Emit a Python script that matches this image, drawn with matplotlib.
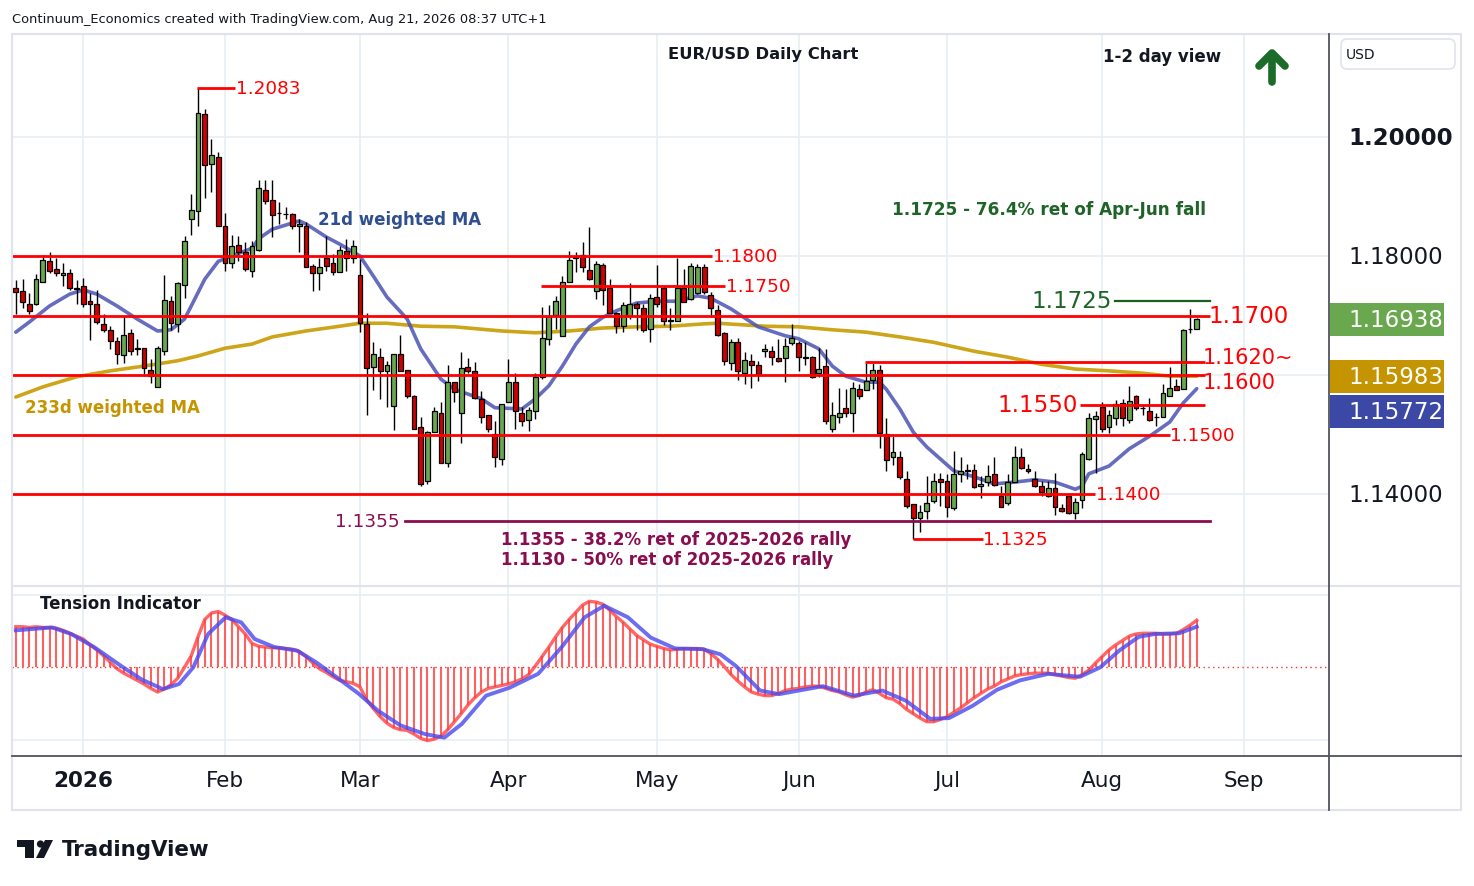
import numpy as np
import pandas as pd
import matplotlib
matplotlib.use("Agg")
import matplotlib.pyplot as plt
from matplotlib.patches import Rectangle, FancyBboxPatch, Polygon, Circle
from matplotlib.transforms import blended_transform_factory

plt.rcParams['font.family'] = ['DejaVu Sans']

# ---------------- data ----------------
dates = pd.bdate_range('2025-12-17', '2026-08-21')
dates = dates[~dates.isin(pd.to_datetime(['2025-12-25', '2026-01-01']))]

opens = [
1.1747,1.1741,1.1719,1.1719,1.1757,1.1791,1.1779,1.1768,1.1771,1.1746,
1.1749,1.1724,1.1720,1.1685,1.1675,1.1657,1.1634,1.1670,1.1646,1.1646,
1.1608,1.1580,1.1641,1.1724,1.1685,1.1752,1.1862,1.1876,1.2038,1.1954,
1.1967,1.1850,1.1788,1.1818,1.1806,1.1775,1.1810,1.1911,1.1894,1.1872,
1.1871,1.1871,1.1850,1.1851,1.1784,1.1771,1.1796,1.1788,1.1773,1.1808,
1.1796,1.1768,1.1686,1.1613,1.1630,1.1607,1.1548,1.1636,1.1608,1.1565,
1.1512,1.1422,1.1505,1.1537,1.1452,1.1588,1.1537,1.1613,1.1606,1.1560,
1.1532,1.1501,1.1459,1.1554,1.1588,1.1537,1.1524,1.1540,1.1597,1.1661,
1.1701,1.1665,1.1757,1.1798,1.1801,1.1777,1.1741,1.1785,1.1747,1.1704,
1.1683,1.1700,1.1720,1.1712,1.1678,1.1731,1.1747,1.1692,1.1691,1.1746,
1.1728,1.1738,1.1781,1.1735,1.1709,1.1670,1.1620,1.1655,1.1604,1.1623,
1.1617,1.1640,1.1640,1.1628,1.1628,1.1653,1.1653,1.1630,1.1630,1.1604,
1.1615,1.1510,1.1529,1.1545,1.1536,1.1576,1.1574,1.1592,1.1609,1.1501,
1.1463,1.1463,1.1426,1.1383,1.1360,1.1371,1.1389,1.1425,1.1422,1.1376,
1.1434,1.1438,1.1440,1.1413,1.1420,1.1434,1.1397,1.1385,1.1421,1.1463,
1.1442,1.1426,1.1414,1.1396,1.1410,1.1376,1.1396,1.1368,1.1390,1.1459,
1.1526,1.1547,1.1513,1.1528,1.1553,1.1524,1.1565,1.1544,1.1540,1.1529,
1.1529,1.1565,1.1581,1.1576,1.1677,1.1677]

highs = [
1.1759,1.1762,1.1737,1.1770,1.1801,1.1807,1.1796,1.1789,1.1779,1.1760,
1.1763,1.1737,1.1743,1.1702,1.1683,1.1664,1.1699,1.1677,1.1661,1.1646,
1.1627,1.1649,1.1768,1.1732,1.1757,1.1833,1.1905,1.2083,1.2047,1.1997,
1.1974,1.1873,1.1836,1.1834,1.1823,1.1826,1.1927,1.1927,1.1927,1.1890,
1.1883,1.1873,1.1862,1.1857,1.1787,1.1796,1.1834,1.1803,1.1816,1.1829,
1.1827,1.1795,1.1705,1.1655,1.1646,1.1624,1.1636,1.1667,1.1608,1.1566,
1.1529,1.1506,1.1547,1.1554,1.1616,1.1588,1.1639,1.1628,1.1622,1.1573,
1.1532,1.1522,1.1552,1.1627,1.1604,1.1546,1.1546,1.1604,1.1715,1.1717,
1.1733,1.1767,1.1809,1.1806,1.1823,1.1848,1.1792,1.1789,1.1762,1.1706,
1.1723,1.1755,1.1722,1.1720,1.1736,1.1785,1.1750,1.1713,1.1796,1.1778,
1.1788,1.1787,1.1787,1.1740,1.1718,1.1673,1.1661,1.1662,1.1638,1.1635,
1.1624,1.1652,1.1649,1.1661,1.1662,1.1686,1.1658,1.1656,1.1632,1.1645,
1.1644,1.1554,1.1578,1.1576,1.1588,1.1585,1.1620,1.1620,1.1616,1.1527,
1.1498,1.1473,1.1438,1.1383,1.1382,1.1431,1.1436,1.1436,1.1434,1.1472,
1.1462,1.1450,1.1450,1.1431,1.1448,1.1462,1.1414,1.1434,1.1481,1.1477,
1.1450,1.1438,1.1422,1.1422,1.1436,1.1383,1.1397,1.1394,1.1470,1.1537,
1.1540,1.1555,1.1542,1.1558,1.1559,1.1581,1.1566,1.1550,1.1562,1.1537,
1.1585,1.1613,1.1594,1.1678,1.1711,1.1695]

lows = [
1.1703,1.1712,1.1703,1.1717,1.1757,1.1772,1.1767,1.1750,1.1743,1.1719,
1.1714,1.1659,1.1685,1.1672,1.1643,1.1618,1.1620,1.1634,1.1634,1.1599,
1.1586,1.1580,1.1634,1.1675,1.1672,1.1729,1.1836,1.1851,1.1897,1.1907,
1.1850,1.1775,1.1780,1.1792,1.1775,1.1765,1.1808,1.1887,1.1832,1.1854,
1.1862,1.1846,1.1806,1.1782,1.1742,1.1743,1.1775,1.1768,1.1773,1.1774,
1.1789,1.1673,1.1532,1.1575,1.1560,1.1547,1.1508,1.1606,1.1562,1.1510,
1.1414,1.1417,1.1504,1.1452,1.1445,1.1554,1.1486,1.1604,1.1560,1.1520,
1.1504,1.1445,1.1448,1.1554,1.1510,1.1514,1.1506,1.1526,1.1594,1.1650,
1.1677,1.1665,1.1756,1.1773,1.1773,1.1760,1.1728,1.1718,1.1704,1.1670,
1.1672,1.1694,1.1676,1.1673,1.1656,1.1714,1.1684,1.1676,1.1691,1.1722,
1.1726,1.1736,1.1736,1.1697,1.1666,1.1617,1.1608,1.1592,1.1585,1.1578,
1.1590,1.1631,1.1617,1.1622,1.1588,1.1650,1.1607,1.1616,1.1595,1.1596,
1.1518,1.1504,1.1520,1.1530,1.1504,1.1559,1.1574,1.1576,1.1478,1.1438,
1.1448,1.1426,1.1376,1.1325,1.1336,1.1358,1.1385,1.1380,1.1362,1.1373,
1.1421,1.1426,1.1410,1.1393,1.1414,1.1414,1.1379,1.1382,1.1420,1.1442,
1.1435,1.1411,1.1396,1.1395,1.1364,1.1369,1.1366,1.1358,1.1376,1.1458,
1.1436,1.1505,1.1503,1.1516,1.1515,1.1520,1.1542,1.1533,1.1522,1.1515,
1.1529,1.1565,1.1575,1.1576,1.1671,1.1677]

closes = [
1.1739,1.1722,1.1708,1.1761,1.1793,1.1775,1.1771,1.1771,1.1747,1.1745,
1.1719,1.1720,1.1689,1.1675,1.1658,1.1636,1.1667,1.1641,1.1644,1.1612,
1.1599,1.1645,1.1726,1.1687,1.1754,1.1826,1.1878,1.2040,1.1953,1.1969,
1.1850,1.1789,1.1816,1.1806,1.1778,1.1816,1.1914,1.1893,1.1869,1.1872,
1.1870,1.1850,1.1854,1.1782,1.1771,1.1781,1.1784,1.1773,1.1810,1.1796,
1.1816,1.1687,1.1611,1.1635,1.1607,1.1617,1.1636,1.1607,1.1565,1.1510,
1.1416,1.1505,1.1539,1.1452,1.1588,1.1571,1.1611,1.1606,1.1561,1.1529,
1.1510,1.1462,1.1552,1.1589,1.1539,1.1522,1.1542,1.1596,1.1662,1.1700,
1.1724,1.1757,1.1794,1.1796,1.1781,1.1762,1.1787,1.1743,1.1705,1.1682,
1.1717,1.1720,1.1712,1.1676,1.1730,1.1720,1.1690,1.1690,1.1747,1.1722,
1.1784,1.1781,1.1739,1.1713,1.1668,1.1624,1.1655,1.1606,1.1625,1.1616,
1.1602,1.1644,1.1631,1.1624,1.1648,1.1662,1.1631,1.1629,1.1597,1.1610,
1.1522,1.1532,1.1537,1.1536,1.1579,1.1565,1.1590,1.1608,1.1502,1.1458,
1.1470,1.1428,1.1380,1.1360,1.1369,1.1385,1.1422,1.1421,1.1378,1.1434,
1.1438,1.1440,1.1411,1.1416,1.1431,1.1415,1.1379,1.1421,1.1463,1.1443,
1.1438,1.1414,1.1404,1.1410,1.1378,1.1371,1.1368,1.1386,1.1467,1.1527,
1.1531,1.1509,1.1533,1.1552,1.1528,1.1557,1.1544,1.1544,1.1524,1.1529,
1.1569,1.1579,1.1575,1.1676,1.1678,1.1694]

# 21d weighted MA (sampled at bar positions)
wma21_idx = [0,2,5,8,10,12,15,18,21,23,25,26,28,30,32,35,36,38,42,43,46,48,51,53,55,58,60,63,65,69,
             71,75,77,79,81,83,85,87,89,92,95,98,101,103,104,106,110,114,116,119,121,123,126,128,129,
             131,133,135,137,139,142,145,148,151,154,157,158,159,162,165,168,171,173,175]
wma21_val = [1.1672,1.1689,1.1716,1.1736,1.1743,1.1736,1.1716,1.1694,1.1674,1.1676,1.1694,1.1716,1.1761,
             1.1791,1.1800,1.1813,1.1829,1.1845,1.1859,1.1854,1.1832,1.1820,1.1800,1.1766,1.1731,1.1694,
             1.1644,1.1593,1.1576,1.1560,1.1545,1.1543,1.1560,1.1582,1.1615,1.1652,1.1681,1.1697,1.1708,
             1.1721,1.1724,1.1724,1.1733,1.1729,1.1723,1.1711,1.1681,1.1666,1.1661,1.1644,1.1615,1.1598,
             1.1588,1.1588,1.1576,1.1543,1.1504,1.1479,1.1459,1.1439,1.1429,1.1417,1.1420,1.1424,1.1420,
             1.1408,1.1413,1.1434,1.1447,1.1476,1.1497,1.1521,1.1553,1.1577]

# 233d weighted MA (sampled)
wma233_idx = [0,4,9,14,19,24,27,31,35,38,43,48,51,55,60,65,69,72,77,82,87,92,97,102,104,111,116,121,
              126,131,136,138,142,147,152,157,162,167,171,175]
wma233_val = [1.1563,1.1580,1.1597,1.1607,1.1615,1.1624,1.1632,1.1645,1.1652,1.1664,1.1674,1.1682,1.1687,
              1.1687,1.1682,1.1681,1.1677,1.1674,1.1671,1.1674,1.1679,1.1681,1.1682,1.1686,1.1687,1.1682,
              1.1681,1.1676,1.1672,1.1664,1.1655,1.1650,1.1640,1.1630,1.1618,1.1610,1.1607,1.1603,1.1598,
              1.1598]

# Tension indicator (histogram per bar) and its signal line (sampled)
tension = [
0.56,0.56,0.55,0.56,0.55,0.55,0.54,0.51,0.47,0.43,
0.39,0.31,0.24,0.16,0.07,-0.02,-0.08,-0.13,-0.18,-0.23,
-0.29,-0.34,-0.30,-0.24,-0.15,0.00,0.16,0.42,0.66,0.75,
0.77,0.72,0.66,0.56,0.46,0.33,0.29,0.28,0.27,0.27,
0.26,0.25,0.22,0.15,0.06,-0.02,-0.07,-0.13,-0.18,-0.20,
-0.22,-0.27,-0.45,-0.57,-0.68,-0.77,-0.83,-0.86,-0.87,-0.92,
-0.98,-1.01,-0.99,-0.95,-0.86,-0.75,-0.64,-0.52,-0.42,-0.34,
-0.29,-0.27,-0.25,-0.23,-0.20,-0.16,-0.10,0.02,0.15,0.28,
0.42,0.55,0.66,0.76,0.86,0.91,0.90,0.87,0.79,0.70,
0.62,0.53,0.44,0.38,0.32,0.29,0.26,0.24,0.25,0.26,
0.26,0.26,0.25,0.19,0.11,0.01,-0.10,-0.19,-0.27,-0.34,
-0.37,-0.39,-0.39,-0.36,-0.32,-0.30,-0.29,-0.27,-0.26,-0.26,
-0.29,-0.32,-0.34,-0.38,-0.41,-0.39,-0.34,-0.31,-0.36,-0.42,
-0.44,-0.50,-0.58,-0.64,-0.70,-0.75,-0.75,-0.72,-0.68,-0.62,
-0.56,-0.49,-0.42,-0.36,-0.30,-0.26,-0.20,-0.16,-0.12,-0.10,
-0.09,-0.08,-0.08,-0.08,-0.10,-0.12,-0.14,-0.15,-0.10,-0.04,
0.06,0.15,0.24,0.31,0.37,0.43,0.46,0.47,0.47,0.47,
0.46,0.46,0.47,0.52,0.58,0.65]

signal_idx = [0,5.4,8.2,11.6,15.9,18.7,21.8,24.2,26.3,28.5,31.1,33.4,35.4,38.3,41.7,44.5,47.3,50.9,53.7,
              57,60.6,63.5,66.1,69.7,73.2,77.4,80.9,84.3,87.2,90.7,94.1,97.7,101.8,104.4,106.7,110.3,
              113.1,119.6,124.2,128.4,131.9,135.5,138.3,141.8,145.4,148.8,153,157.7,160.7,163.5,166.4,
              168.8,172.4,175]
signal_val = [0.51,0.55,0.46,0.28,0.00,-0.17,-0.30,-0.23,0.00,0.46,0.69,0.62,0.39,0.28,0.23,0.07,-0.12,
              -0.37,-0.60,-0.80,-0.92,-0.97,-0.78,-0.39,-0.28,-0.09,0.28,0.69,0.85,0.69,0.41,0.26,0.25,
              0.18,0.02,-0.32,-0.37,-0.26,-0.39,-0.32,-0.46,-0.71,-0.70,-0.53,-0.31,-0.18,-0.09,-0.13,
              0.00,0.23,0.42,0.46,0.47,0.56]

# support / resistance levels: price, label
levels = [1.2083, 1.1800, 1.1750, 1.1700, 1.1622, 1.1600, 1.1550, 1.1500, 1.1400, 1.1325]
level_labels = ['1.2083', '1.1800', '1.1750', '1.1700', '1.1620~', '1.1600', '1.1550', '1.1500', '1.1400', '1.1325']
fib_level = 1.1355
target_level = 1.1725
price_ticks = [1.14, 1.18, 1.20]
last_price = 1.16938
wma233_last = 1.15983
wma21_last = 1.15772

# ---------------- figure ----------------
W, H = 1474, 887
fig = plt.figure(figsize=(W / 100, H / 100), dpi=100, facecolor='white')

L, R = 12, 1329
ax = fig.add_axes([L / W, 1 - 586 / H, (R - L) / W, (586 - 35) / H])
ax2 = fig.add_axes([L / W, 1 - 757 / H, (R - L) / W, (757 - 588) / H])
ov = fig.add_axes([0, 0, 1, 1], zorder=20)
ov.set_xlim(0, W); ov.set_ylim(H, 0); ov.set_axis_off()

n = len(closes)
xi = np.arange(n)
XL = (-0.563, 194.6)
for a in (ax, ax2):
    a.set_xlim(*XL)
    a.set_axis_off()
ax.set_ylim(1.12471, 1.21731)
ax2.set_ylim(-1.223, 1.108)
ppx = (ax.get_ylim()[1] - ax.get_ylim()[0]) / (586 - 35)  # price per pixel

# month positions
future = pd.bdate_range(dates[-1] + pd.Timedelta(days=1), '2026-09-30')
all_dates = dates.append(future)
month_pos, month_lab = [], []
for m in range(1, 10):
    idx = np.where((all_dates.year == 2026) & (all_dates.month == m))[0][0]
    month_pos.append(idx)
    month_lab.append('2026' if m == 1 else pd.Timestamp(2026, m, 1).strftime('%b'))

grid_c = '#e8edf3'
for p in month_pos:
    ax.axvline(p, color=grid_c, lw=1.2, zorder=0)
    ax2.axvline(p, color=grid_c, lw=1.2, zorder=0)
for t in [1.14, 1.16, 1.18, 1.20]:
    ax.axhline(t, color=grid_c, lw=1.2, zorder=0)
for t in [-1.0, 1.0]:
    ax2.axhline(t, color=grid_c, lw=1.2, zorder=0)

# moving averages
ax.plot(wma233_idx, wma233_val, color='#c89b00', lw=2.6, alpha=0.9, zorder=2,
        solid_capstyle='round', solid_joinstyle='round')
ax.plot(wma21_idx, wma21_val, color='#4b52b3', lw=2.6, alpha=0.85, zorder=2,
        solid_capstyle='round', solid_joinstyle='round')

# candles
up_c, dn_c = '#6aa84f', '#d00000'
for i in range(n):
    o, h, l, c = opens[i], highs[i], lows[i], closes[i]
    ax.vlines(i, l, h, color='black', lw=1.0, zorder=3)
    bot = min(o, c)
    ht = max(abs(c - o), 0.00004)
    ax.add_patch(Rectangle((i - 0.36, bot), 0.72, ht, fc=up_c if c >= o else dn_c,
                           ec='black', lw=0.9, zorder=4))

# level lines
red = '#ff0000'
extent = {1.2083: (26.8, 32.5), 1.1800: (XL[0], 103.2), 1.1750: (77.8, 105.1), 1.1700: (XL[0], 177.0),
          1.1622: (125.8, 176.2), 1.1600: (XL[0], 176.2), 1.1550: (157.7, 176.2), 1.1500: (XL[0], 171.0),
          1.1400: (XL[0], 159.9), 1.1325: (132.9, 143.3)}
big = {1.1700, 1.1622, 1.1600, 1.1550}
label_shift = {1.1622: 5.2, 1.1600: -6.5}   # pixel nudges (labels of adjacent levels)
label_size = {1.1622: 15.0, 1.1600: 15.0}
for lv, lab in zip(levels, level_labels):
    x0, x1 = extent[lv]
    ax.plot([x0, x1], [lv, lv], color=red, lw=2.0, zorder=6, solid_capstyle='butt')
    ty = lv + label_shift.get(lv, 0) * ppx
    fs = label_size.get(lv, 16.5)
    if lv == 1.1550:
        ax.text(x0 - 0.3, ty, lab, color=red, fontsize=fs, ha='right', va='center', zorder=7)
    elif lv in big:
        ax.text(x1 - 0.3, ty, lab, color=red, fontsize=fs, ha='left', va='center', zorder=7, clip_on=False)
    else:
        ax.text(x1 + 0.1, ty, lab, color=red, fontsize=13.2, ha='left', va='center', zorder=7, clip_on=False)

maroon = '#880e4f'
ax.plot([57.7, 177.0], [fib_level, fib_level], color=maroon, lw=2.0, zorder=6)
ax.text(56.9, fib_level, '1.1355', color=maroon, fontsize=13.2, ha='right', va='center', zorder=7)
dgreen = '#1b5e20'
ax.plot([162.9, 177.0], [target_level, target_level], color=dgreen, lw=1.6, zorder=6)
ax.text(162.4, target_level, '1.1725', color='#1e6428', fontsize=16.5, ha='right', va='center', zorder=7)

# price axis labels
bt = blended_transform_factory(ax.transAxes, ax.transData)
lab_x = (1348 - L) / (R - L)
for t in price_ticks:
    ax.text(lab_x, t, f'{t:.5f}', transform=bt, fontsize=16.5, color='#131722', va='center',
            ha='left', clip_on=False, fontweight='bold' if t == 1.20 else 'normal')

tag_h = 33 * ppx
tag_x0 = (1330 - L) / (R - L)
tag_w = 114 / (R - L)
tags = [(last_price, '#6aa84f'), (wma233_last, '#c49500'), (wma233_last - 35 * ppx, '#3c48a6')]
tag_txt = [f'{last_price:.5f}', f'{wma233_last:.5f}', f'{wma21_last:.5f}']
for (yv, colr), tx in zip(tags, tag_txt):
    ax.add_patch(Rectangle((tag_x0, yv - tag_h / 2), tag_w, tag_h, transform=bt, fc=colr, ec='none',
                           clip_on=False, zorder=8))
    ax.text(lab_x, yv, tx, transform=bt, fontsize=16.5, color='white', va='center', ha='left',
            clip_on=False, zorder=9)

# tension indicator
ax2.axhline(0, color='#e53935', lw=1.0, ls=(0, (1, 2.5)), zorder=1)
ax2.vlines(xi, 0, tension, color='#ff5050', lw=1.5, alpha=0.9, zorder=2)
ax2.plot(xi, tension, color='#ff4040', lw=2.4, alpha=0.8, zorder=3)
ax2.plot(signal_idx, signal_val, color='#4848f0', lw=2.8, alpha=0.8, zorder=4,
         solid_joinstyle='round')

# time axis labels
tx2 = blended_transform_factory(ax2.transData, ax2.transAxes)
for p, lab in zip(month_pos, month_lab):
    ax2.text(p, -0.142, lab, transform=tx2, ha='center', va='center', fontsize=15.5, color='#131722',
             fontweight='bold' if lab == '2026' else 'normal', clip_on=False)

# ---------------- frame & decorations ----------------
frame_c = '#e0e3eb'
ov.add_patch(Rectangle((12, 35), 1449, 776, fill=False, ec=frame_c, lw=1.5))
ov.plot([12, 1461], [586.5, 586.5], color=frame_c, lw=1.5)
ov.plot([12, 1461], [757, 757], color='#50535e', lw=1.3)
ov.plot([1329, 1329], [35, 811], color='#50535e', lw=1.3)
ov.add_patch(FancyBboxPatch((1341, 40), 114, 30, boxstyle='round,pad=0,rounding_size=6',
                            fill=False, ec=frame_c, lw=1.2))
ov.text(1346, 55, 'USD', fontsize=10, color='#131722', va='center', ha='left')

ov.text(12, 19, 'Continuum_Economics created with TradingView.com, Aug 21, 2026 08:37 UTC+1',
        fontsize=9.4, color='#131722', va='center', ha='left')
ov.text(668, 55, 'EUR/USD Daily Chart', fontsize=11.8, fontweight='bold', color='#131722', va='center')
ov.text(1103, 57, '1-2 day view', fontsize=12, fontweight='bold', color='#131722', va='center')
arrow_c = '#1b6b2a'
ov.plot([1272, 1272], [83, 55], color=arrow_c, lw=5.5, solid_capstyle='round')
ov.plot([1259, 1272, 1285], [67, 54, 67], color=arrow_c, lw=5.5, solid_capstyle='round',
        solid_joinstyle='round')

ov.text(892, 210, '1.1725 - 76.4% ret of Apr-Jun fall', fontsize=12.2, fontweight='bold',
        color='#1e6428', va='center')
ov.text(318, 220, '21d weighted MA', fontsize=12, fontweight='bold', color='#2f4f8f', va='center')
ov.text(25, 408, '233d weighted MA', fontsize=12, fontweight='bold', color='#c49500', va='center')
ov.text(501, 540, '1.1355 - 38.2% ret of 2025-2026 rally', fontsize=12, fontweight='bold',
        color=maroon, va='center')
ov.text(501, 560, '1.1130 - 50% ret of 2025-2026 rally', fontsize=12, fontweight='bold',
        color=maroon, va='center')
ov.text(40, 604, 'Tension Indicator', fontsize=12, fontweight='bold', color='#131722', va='center')

# TradingView logo
logo_c = '#131722'
ov.add_patch(Rectangle((17, 841), 17, 7, fc=logo_c, ec='none'))
ov.add_patch(Rectangle((25, 841), 9, 18, fc=logo_c, ec='none'))
ov.add_patch(Circle((40.5, 845), 3.6, fc=logo_c, ec='none'))
ov.add_patch(Polygon([(36, 859), (45, 841), (53, 841), (44, 859)], closed=True, fc=logo_c, ec='none'))
ov.text(62, 850, 'TradingView', fontsize=15.4, fontweight='bold', color=logo_c, va='center')

fig.savefig('out.png', dpi=100, facecolor='white')
